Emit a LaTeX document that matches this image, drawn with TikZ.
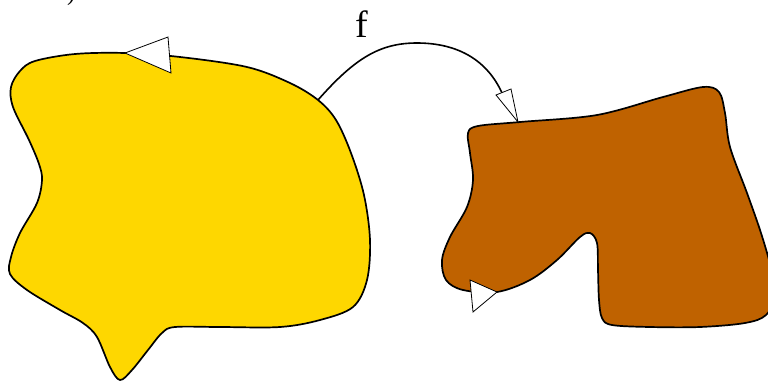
\documentclass[tikz,border=0pt]{standalone}
\usepackage{fontspec}
\setmainfont{Liberation Serif}
\definecolor{gold}{RGB}{254,215,0}
\definecolor{rust}{RGB}{191,98,0}
\begin{document}
\begin{tikzpicture}[x=1pt,y=-1pt,
  blob/.style={draw=black,line width=1.7pt},
  tri/.style={draw=black,fill=white,line width=0.8pt,line join=miter},
  conn/.style={draw=black,line width=1.6pt}]
\useasboundingbox (0,0) rectangle (768,381);
\begin{scope}
\clip (0,0) rectangle (768,381);
% yellow region
\draw[blob,fill=gold] plot[smooth cycle, tension=0.55] coordinates {
 (125,53) (180,57) (247,67) (290,83) (318,100) (336,120) (351,153) (364,195)
 (370,240) (367,280) (353,307) (320,320) (280,327) (220,327) (175,327)
 (162,333) (148,350) (132,370) (120,380) (110,367) (97,337) (83,323) (60,310)
 (27,290) (10,274) (11,257) (20,233) (37,203) (42,180) (39,164) (29,140)
 (13,107) (11,87) (20,71) (35,61) (75,54)};
% orange region
\draw[blob,fill=rust] plot[smooth cycle, tension=0.55] coordinates {
 (520,122) (597,115) (663,97) (703,87) (719,92) (725,113) (730,147) (747,193)
 (761,233) (771,268) (775,295) (766,315) (745,323) (700,327) (650,327)
 (612,325) (602,318) (599,300) (598,270) (597,243) (590,233) (580,237)
 (557,260) (530,280) (497,292) (463,290) (446,280) (442,260) (450,237)
 (467,207) (473,180) (470,153) (468,133) (478,126)};
% connector f
\coordinate (src) at (318,100);
\coordinate (dst) at (502,93);
\draw[conn] (src) .. controls (355,58) and (380,43) .. (417,43)
  .. controls (460,43) and (488,62) .. (dst);
\draw[tri] (518,122) -- (496,95) -- (511,89) -- cycle;
% boundary markers
\draw[tri] (125,53) -- (168,37) -- (171,73) -- cycle;
\draw[tri] (497,292) -- (470,280) -- (473,312) -- cycle;
\node[inner sep=0pt] (flabel) at (362,24) {\fontsize{38}{40}\selectfont f};
\node[inner sep=0pt,anchor=south] (frag) at (71,6) {\fontsize{24}{26}\selectfont )};
\end{scope}
\end{tikzpicture}
\end{document}
